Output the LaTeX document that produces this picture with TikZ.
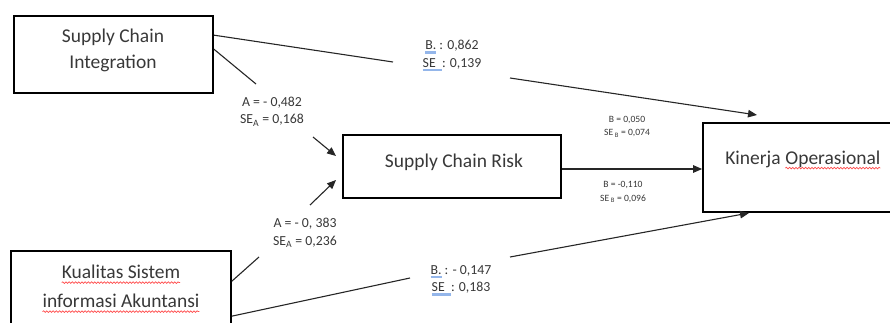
\documentclass[tikz,border=0pt]{standalone}
\usepackage{fontspec}
\setmainfont{Carlito}
\usetikzlibrary{arrows.meta,decorations.pathmorphing}
\definecolor{ink}{HTML}{383838}
\definecolor{ulblue}{HTML}{94B6EA}
% light blue bar under a word (grammar mark)
\newcommand\bluul[1]{\leavevmode\setbox0\hbox{#1}\rlap{\textcolor{ulblue}{\rule[-4pt]{\wd0}{2.6pt}}}\box0}
% red wavy line under a word (spelling mark)
\newcommand\wavy[2]{\tikz[baseline=(#1.base)]{\node[inner sep=0pt,outer sep=0pt] (#1) {#2};
  \draw[red!70,line width=0.7pt,decorate,decoration={snake,amplitude=0.8pt,segment length=3.2pt}]
    ([yshift=-3.8pt]#1.base west) -- ([yshift=-3.8pt]#1.base east);}}
\begin{document}
\begin{tikzpicture}[x=1pt,y=-1pt,
  box/.style={draw=black,line width=1.7pt,inner sep=0pt},
  big/.style={text=ink,font=\fontsize{19.5}{26}\selectfont,align=center,inner sep=0pt},
  lab/.style={text=ink,font=\fontsize{13.8}{17.5}\selectfont,align=center,inner sep=0pt},
  tiny/.style={text=ink,font=\fontsize{9.6}{13.5}\selectfont,align=center,inner sep=0pt},
  link/.style={draw=black!85,line width=1.1pt},
  arr/.style={link,-{Triangle[length=9pt,width=7.5pt]}}]
\useasboundingbox (0,0) rectangle (890,323);
\clip (0,0) rectangle (890,323);

% boxes
\node[box,minimum width=199pt,minimum height=77pt] (sci) at (113.5,54.5) {};
\node[big] (sciT) at (113,50) {Supply Chain\\Integration};
\node[box,minimum width=218pt,minimum height=63pt] (scr) at (452,166.5) {};
\node[big] (scrT) at (454,162) {Supply Chain Risk};
\node[box,minimum width=200pt,minimum height=89pt] (ko) at (803,167.5) {};
\node[big] (koT) at (803,160) {Kinerja \wavy{wko}{Operasional}};
\node[box,minimum width=220pt,minimum height=80pt] (ksia) at (121,291) {};
\node[big] (ksiaT) at (121,289) {\wavy{wka}{Kualitas Sistem}\\[3pt]\wavy{wkb}{informasi Akuntansi}};

% break points of the paths around their labels, and arrow tips
\coordinate (g1a) at (393,62);  \coordinate (g1b) at (510,78);  \coordinate (t1) at (757,115);
\coordinate (g2a) at (256,84);  \coordinate (g2b) at (313,137); \coordinate (t2) at (336,156);
\coordinate (g3a) at (259,257); \coordinate (g3b) at (310,205); \coordinate (t3) at (336,180);
\coordinate (g4a) at (410,278); \coordinate (g4b) at (510,257); \coordinate (t4) at (749,213);

% paths
\draw[link] ([yshift=-20pt]sci.north east) -- (g1a);
\draw[arr] (g1b) -- (t1);
\draw[link] ([yshift=-34pt]sci.north east) -- (g2a);
\draw[arr] (g2b) -- (t2);
\draw[link] ([yshift=-31pt]ksia.north east) -- (g3a);
\draw[arr] (g3b) -- (t3);
\draw[link] ([yshift=-66pt]ksia.north east) -- (g4a);
\draw[arr] (g4b) -- (t4);
\draw[arr] (scr.east |- 0,169) -- (ko.west |- 0,169);

% coefficients
\node[lab] (l1) at (452,56) {\bluul{B.}\ : 0,862\\\bluul{SE\ \ }: 0,139};
\node[lab] (l2) at (272,111.5) {A = - 0,482\\SE\textsubscript{A} = 0,168};
\node[lab] (l3) at (305,233) {A = - 0, 383\\SE\textsubscript{A} = 0,236};
\node[lab] (l4) at (461,280.5) {\bluul{B.}\ : - 0,147\\\bluul{SE\ \ }: 0,183};
\node[tiny] (l5) at (627,126.5) {B = 0,050\\SE\,\textsubscript{B} = 0,074};
\node[tiny] (l6) at (623,192) {B = -0,110\\SE\,\textsubscript{B} = 0,096};
\end{tikzpicture}
\end{document}
